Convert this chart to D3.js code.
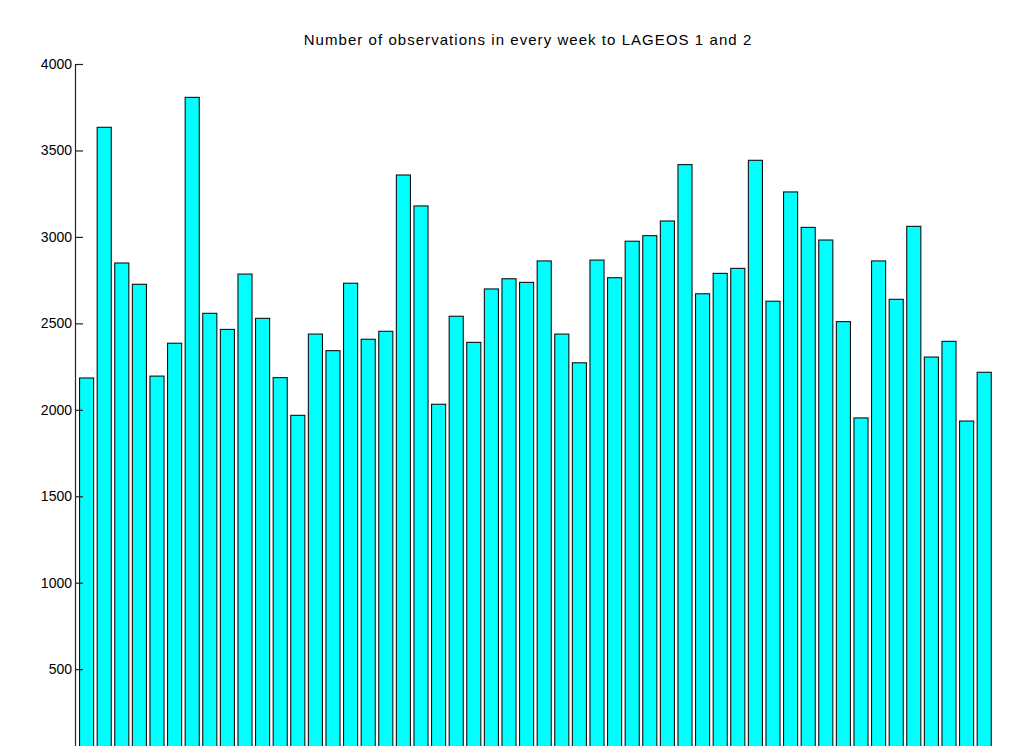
<!DOCTYPE html>
<html>
<head>
<meta charset="utf-8">
<script src="https://cdn.jsdelivr.net/npm/d3@7"></script>
<style>
  html, body { margin: 0; padding: 0; background: #fff; }
  svg { display: block; }
  text { font-family: "Liberation Sans", Arial, Helvetica, sans-serif; fill: #000; }
</style>
</head>
<body>
<svg id="chart" width="1024" height="746"></svg>
<script>
const title = "Number of observations in every week to LAGEOS 1 and 2";
const weeks = d3.range(1, 53);
const observations = [
  2184, 3634, 2849, 2726, 2195, 2385, 3807, 2558, 2465, 2785,
  2529, 2186, 1968, 2438, 2342, 2732, 2408, 2454, 3358, 3179,
  2032, 2541, 2390, 2699, 2758, 2737, 2861, 2438, 2272, 2866,
  2764, 2975, 3007, 3092, 3418, 2671, 2789, 2818, 3443, 2628,
  3260, 3055, 2982, 2510, 1953, 2861, 2639, 3061, 2305, 2396,
  1935, 2217
];
const yTicks = [500, 1000, 1500, 2000, 2500, 3000, 3500, 4000];

const svg = d3.select("#chart");
const axisX = 75;
const x = d3.scaleLinear().domain([0.5, 52.5]).range([77.8, 993]);
const y = d3.scaleLinear().domain([0, 4000]).range([755.6, 64]);
const step = x(2) - x(1);
const barW = step * 0.8;

// bars
svg.append("g").selectAll("rect")
  .data(weeks)
  .join("rect")
  .attr("x", (d) => x(d) - barW / 2)
  .attr("y", (d, i) => y(observations[i]))
  .attr("width", barW)
  .attr("height", (d, i) => y(0) - y(observations[i]))
  .attr("fill", "#00ffff")
  .attr("stroke", "#111")
  .attr("stroke-width", 1.1);

// y axis
const yAxis = d3.axisRight(y).tickValues(yTicks).tickSize(8).tickFormat(d3.format("d"));
const g = svg.append("g").attr("transform", `translate(${axisX},0)`).call(yAxis);
g.select(".domain").attr("d", `M0.5,${y(4000)}V760`).attr("stroke", "#222").attr("stroke-width", 1.2);
g.selectAll(".tick line").attr("stroke", "#222").attr("stroke-width", 1.2).attr("x1", 0.5);
g.selectAll(".tick text")
  .attr("x", -3)
  .attr("text-anchor", "end")
  .attr("font-size", 14)
  .attr("font-family", "Liberation Sans, Arial, sans-serif")
  .attr("fill", "#000");

// title
svg.append("text")
  .attr("x", 528)
  .attr("y", 45)
  .attr("text-anchor", "middle")
  .attr("font-size", 15)
  .attr("letter-spacing", "1.05px")
  .text(title);
</script>
</body>
</html>
